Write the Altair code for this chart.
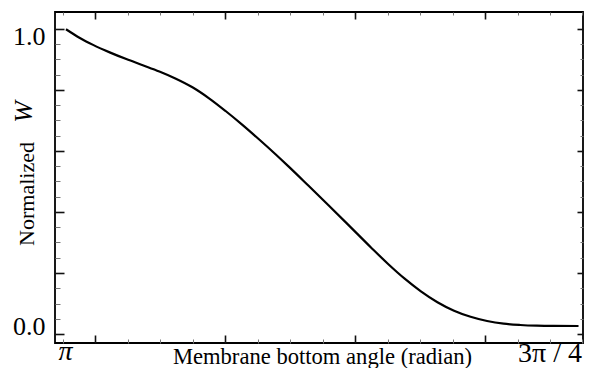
import math
import altair as alt
import pandas as pd

PI = math.pi

# Membrane bottom angle (radian), running from pi down to 3pi/4
angle = [3.1371, 3.1161, 3.0961, 3.0710, 3.0459, 3.0210, 2.9959, 2.9709, 2.9459,
         2.9208, 2.8958, 2.8708, 2.8458, 2.8207, 2.8007, 2.7707, 2.7406, 2.7106,
         2.6756, 2.6505, 2.6255, 2.6005, 2.5755, 2.5504, 2.5254, 2.5004, 2.4753,
         2.4504, 2.4253, 2.4002, 2.3622]
# Normalized W
w_norm = [0.9990, 0.9705, 0.9479, 0.9233, 0.9013, 0.8813, 0.8607, 0.8370, 0.8089,
          0.7728, 0.7311, 0.6866, 0.6393, 0.5902, 0.5495, 0.4866, 0.4230, 0.3587,
          0.2830, 0.2305, 0.1823, 0.1400, 0.1043, 0.0764, 0.0564, 0.0426, 0.0338,
          0.0295, 0.0272, 0.0264, 0.0262]

x_tick_values = [PI - j * PI / 64 for j in range(17)]
y_tick_values = [k * 0.05 for k in range(21)]
x_label_values = [PI, 3 * PI / 4]
y_label_values = [1.0, 0.05]
x_domain = [2.35543, 3.15369]
y_domain = [-0.0295, 1.0557]

W, H = 528, 331
FONT = "Liberation Serif"

df = pd.DataFrame({"i": list(range(len(angle))), "angle": angle, "W": w_norm})

xs = alt.Scale(domain=x_domain, reverse=True, nice=False, zero=False)
ys = alt.Scale(domain=y_domain, nice=False, zero=False)

XMAJ = "round((PI - datum.value) * 64 / PI) % 4 == 1"
YMAJ = "round(datum.value * 20) % 4 == 0"


def cond(test, a, b):
    return {"condition": {"test": test, "value": a}, "value": b}


def tick_axis(orient, offset, values, test, big, small):
    return alt.Axis(orient=orient, offset=offset, values=values, labels=False,
                    domain=False, grid=False, ticks=True, title=None,
                    tickSize=cond(test, big, small),
                    tickColor=cond(test, "#111111", "#777777"),
                    tickWidth=cond(test, 1.6, 1.0))


base = alt.Chart(df)

curve = base.mark_line(color="black", strokeWidth=2.2, interpolate="monotone").encode(
    x=alt.X("angle:Q", scale=xs, axis=alt.Axis(
        orient="bottom", values=x_label_values,
        labelExpr="datum.value > 3 ? 'π' : '3π / 4'",
        ticks=False, tickSize=0, domain=False, grid=False,
        labelFont=FONT, labelColor="black",
        labelFontSize=28,
        labelFontStyle=cond("datum.value > 3", "italic", "normal"),
        labelOffset=cond("datum.value > 3", 2, -33),
        labelPadding=cond("datum.value > 3", -6, -4),
        labelFlush=False, labelOverlap=False, labelBound=False,
        title="Membrane bottom angle (radian)", titleFont=FONT,
        titleFontSize=22.6, titleFontWeight="normal", titleColor="black",
        titleX=267, titleY=20, titleAlign="center", titleBaseline="alphabetic")),
    y=alt.Y("W:Q", scale=ys, axis=alt.Axis(
        orient="left", values=y_label_values,
        labelExpr="datum.value > 0.5 ? '1.0' : '0.0'",
        ticks=False, tickSize=0, domain=False, grid=False,
        labelFont=FONT, labelColor="black", labelFontSize=26,
        labelPadding=10, labelOffset=7.5, labelBaseline="middle",
        labelFlush=False, labelOverlap=False, labelBound=False,
        title="Normalized", titleFont=FONT, titleFontSize=22,
        titleFontWeight="normal", titleColor="black", titleAngle=270,
        titleX=-22, titleY=181.5, titleAlign="center", titleBaseline="alphabetic")),
    order=alt.Order("i:Q"),
)

ticks_bl = base.mark_line(opacity=0).encode(
    x=alt.X("angle:Q", scale=xs, axis=tick_axis("top", -H, x_tick_values, XMAJ, 8, 4)),
    y=alt.Y("W:Q", scale=ys, axis=tick_axis("right", -W, y_tick_values, YMAJ, 9, 5)),
    order=alt.Order("i:Q"),
)

ticks_tr = base.mark_line(opacity=0).encode(
    x=alt.X("angle:Q", scale=xs, axis=tick_axis("bottom", -H, x_tick_values, XMAJ, 7, 3)),
    y=alt.Y("W:Q", scale=ys, axis=tick_axis("left", -W, y_tick_values, YMAJ, 6, 3)),
    order=alt.Order("i:Q"),
)

w_title = base.mark_line(opacity=0).encode(
    x=alt.X("angle:Q", scale=xs, axis=None),
    y=alt.Y("W:Q", scale=ys, axis=alt.Axis(
        orient="left", labels=False, ticks=False, domain=False, grid=False,
        title="W", titleFont=FONT, titleFontSize=26, titleFontStyle="italic",
        titleFontWeight="normal", titleColor="black", titleAngle=270,
        titleX=-24, titleY=99.5, titleAlign="center", titleBaseline="alphabetic")),
    order=alt.Order("i:Q"),
)

chart = alt.layer(curve, ticks_bl, ticks_tr, w_title).resolve_axis(
    x="independent", y="independent"
).properties(
    width=W, height=H, autosize="none",
    padding={"left": 47, "top": 4, "right": 1, "bottom": 25},
    background="white",
).configure_view(stroke="black", strokeWidth=1.8)

chart.save("out.html", embed_options={"renderer": "svg", "actions": False})
